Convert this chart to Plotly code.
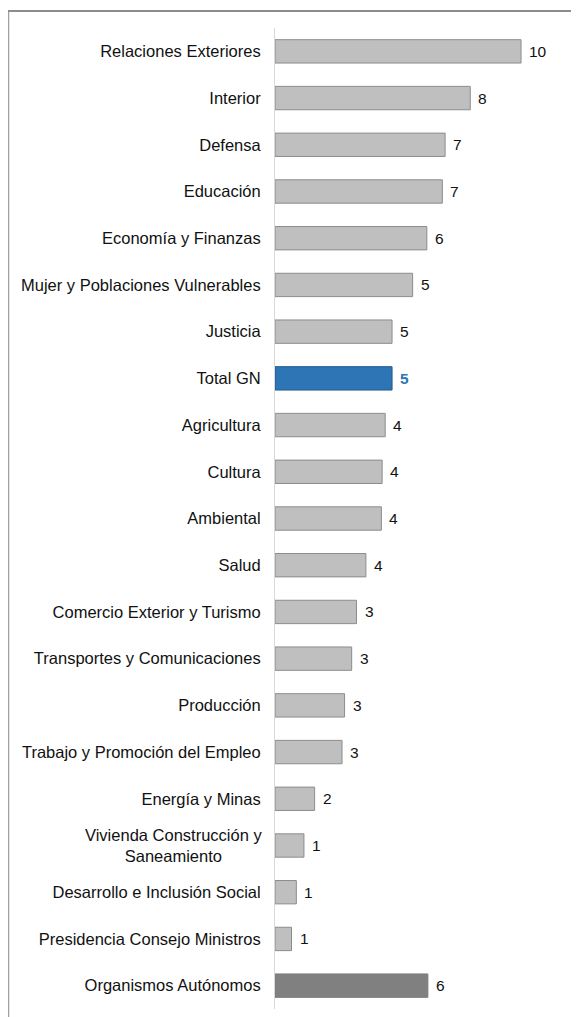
import plotly.graph_objects as go

categories = [
    "Relaciones Exteriores", "Interior", "Defensa", "Educación",
    "Economía y Finanzas", "Mujer y Poblaciones Vulnerables", "Justicia",
    "Total GN", "Agricultura", "Cultura", "Ambiental", "Salud",
    "Comercio Exterior y Turismo", "Transportes y Comunicaciones",
    "Producción", "Trabajo y Promoción del Empleo", "Energía y Minas",
    "Vivienda Construcción y Saneamiento", "Desarrollo e Inclusión Social",
    "Presidencia Consejo Ministros", "Organismos Autónomos",
]
values = [9.69, 7.69, 6.70, 6.59, 5.98, 5.42, 4.61, 4.61, 4.34, 4.22, 4.19,
          3.58, 3.21, 3.02, 2.74, 2.64, 1.56, 1.14, 0.84, 0.65, 6.02]
tick_labels = [
    "Relaciones Exteriores", "Interior", "Defensa", "Educación",
    "Economía y Finanzas", "Mujer y Poblaciones Vulnerables", "Justicia",
    "Total GN", "Agricultura", "Cultura", "Ambiental", "Salud",
    "Comercio Exterior y Turismo", "Transportes y Comunicaciones",
    "Producción", "Trabajo y Promoción del Empleo", "Energía y Minas",
    "", "Desarrollo e Inclusión Social",
    "Presidencia Consejo Ministros", "Organismos Autónomos",
]
two_line_label = "Vivienda Construcción y<br>Saneamiento"

FONT = "Liberation Sans, Arial, sans-serif"
LABEL_SIZE = 16.5
VALUE_SIZE = 15.5
GRAY = "#bfbfbf"
BLUE = "#2e75b6"
DARK = "#808080"
TXT = "#111111"

colors, lines = [], []
for c in categories:
    if c == "Total GN":
        colors.append(BLUE); lines.append("#1f5a8f")
    elif c == "Organismos Autónomos":
        colors.append(DARK); lines.append("#7a7a7a")
    else:
        colors.append(GRAY); lines.append("#8c8c8c")

fig = go.Figure(go.Bar(
    x=values, y=categories, orientation="h",
    marker=dict(color=colors, line=dict(color=lines, width=1)),
    hoverinfo="skip",
))

# value labels
for c, v in zip(categories, values):
    is_total = c == "Total GN"
    fig.add_annotation(
        x=v, y=c, xref="x", yref="y",
        text=f"<b>{v:.0f}</b>" if is_total else f"{v:.0f}",
        showarrow=False, xanchor="left", xshift=6,
        font=dict(family=FONT, size=VALUE_SIZE, color=BLUE if is_total else TXT),
    )

# two-line centred category label
fig.add_annotation(
    x=0, y="Vivienda Construcción y Saneamiento", xref="paper", yref="y",
    text=two_line_label, showarrow=False, xanchor="right", align="center",
    xshift=-11, font=dict(family=FONT, size=LABEL_SIZE, color=TXT),
)

# page has an 8px body margin, so figure coords = page coords - 8
W, H = 571, 1009
L, R, T, B = 267, 12, 20, 8
pw, ph = W - L - R, H - T - B

def px_x(px):
    return (px - L) / pw

def px_y(py):
    return 1 - (py - T) / ph

shapes = [
    dict(type="line", xref="paper", yref="paper", x0=px_x(0.5), x1=px_x(0.5),
         y0=px_y(2), y1=px_y(H + 2), line=dict(color="#a0a0a0", width=1.5)),
    dict(type="line", xref="paper", yref="paper", x0=px_x(0), x1=px_x(W + 2),
         y0=px_y(3), y1=px_y(3), line=dict(color="#8c8c8c", width=2)),
]

fig.update_layout(
    width=W, height=H,
    margin=dict(l=L, r=R, t=T, b=B, pad=0),
    paper_bgcolor="white", plot_bgcolor="white",
    bargap=0.5, showlegend=False, shapes=shapes,
    font=dict(family=FONT, size=LABEL_SIZE, color=TXT),
    xaxis=dict(range=[0, 11.5], visible=False, fixedrange=True),
    yaxis=dict(
        categoryorder="array", categoryarray=categories, autorange="reversed",
        tickmode="array", tickvals=categories, ticktext=tick_labels,
        showline=True, linecolor="#d9d9d9", linewidth=1,
        ticks="outside", ticklen=10, tickcolor="rgba(0,0,0,0)",
        showgrid=False, zeroline=False, fixedrange=True, automargin=False,
        tickfont=dict(family=FONT, size=LABEL_SIZE, color=TXT),
    ),
)

fig.write_html("out.html")
